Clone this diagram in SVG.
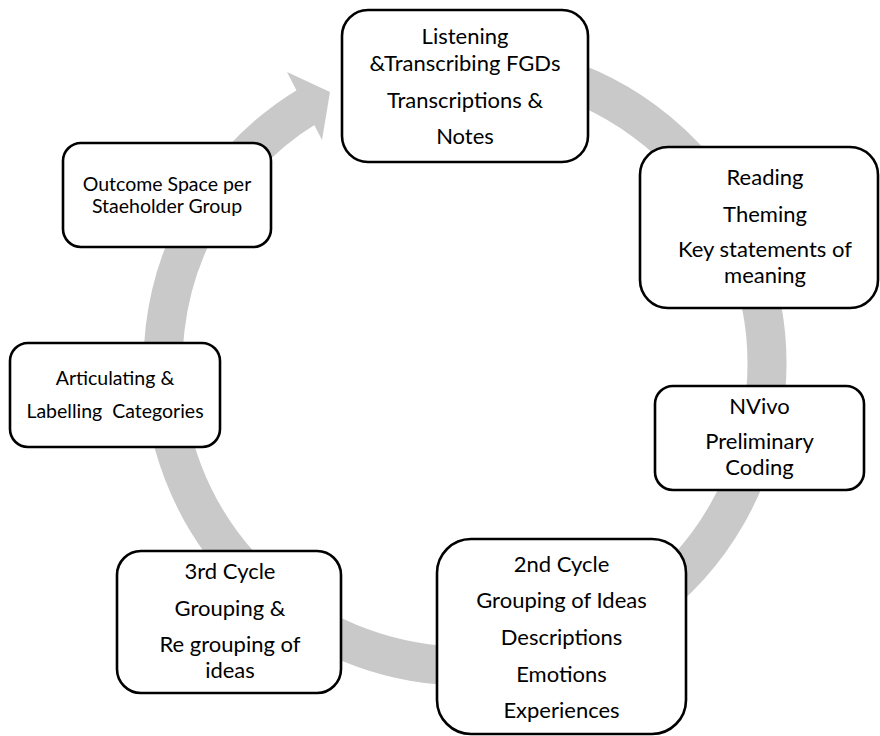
<svg xmlns="http://www.w3.org/2000/svg" width="880" height="736" viewBox="0 0 880 736">
<style>
.box{fill:#ffffff;stroke:#000000;stroke-width:2.6}
.t{font-family:Lato,"Open Sans","Liberation Sans",sans-serif;font-size:22px;fill:#000000;text-anchor:middle}
.s{font-size:19.5px}
.band{fill:none;stroke:#c9c9c9;stroke-width:39}
</style>
<rect width="880" height="736" fill="#ffffff"/>
<g id="connectors">
<path class="band" d="M543.2,72.3 A302,302 0 1 1 309.5,105.1"/>
<polygon points="287,72 330,92 322,140" fill="#c9c9c9"/>
</g>
<g id="n1">
<rect class="box" x="342" y="10" width="246" height="152" rx="26"/>
<text class="t" x="465" y="44">Listening</text>
<text class="t" x="465" y="71">&amp;Transcribing FGDs</text>
<text class="t" x="465" y="108">Transcriptions &amp;</text>
<text class="t" x="465" y="144">Notes</text>
</g>
<g id="n2">
<rect class="box" x="640" y="147" width="238" height="161" rx="28"/>
<text class="t" x="765" y="185">Reading</text>
<text class="t" x="765" y="222">Theming</text>
<text class="t" x="765" y="257">Key statements of</text>
<text class="t" x="765" y="283">meaning</text>
</g>
<g id="n3">
<rect class="box" x="655" y="386" width="209" height="104" rx="18"/>
<text class="t" x="759.5" y="414">NVivo</text>
<text class="t" x="759.5" y="449">Preliminary</text>
<text class="t" x="759.5" y="475">Coding</text>
</g>
<g id="n4">
<rect class="box" x="437" y="539" width="249" height="195" rx="34"/>
<text class="t" x="561.5" y="572">2nd Cycle</text>
<text class="t" x="561.5" y="608">Grouping of Ideas</text>
<text class="t" x="561.5" y="645">Descriptions</text>
<text class="t" x="561.5" y="682">Emotions</text>
<text class="t" x="561.5" y="718">Experiences</text>
</g>
<g id="n5">
<rect class="box" x="117" y="551" width="224" height="142" rx="24"/>
<text class="t" x="230" y="579">3rd Cycle</text>
<text class="t" x="230" y="616">Grouping &amp;</text>
<text class="t" x="230" y="652">Re grouping of</text>
<text class="t" x="230" y="678">ideas</text>
</g>
<g id="n6">
<rect class="box" x="10" y="343" width="210" height="104" rx="18"/>
<text class="t s" x="115" y="385">Articulating &amp;</text>
<text class="t s" x="115" y="418" xml:space="preserve">Labelling  Categories</text>
</g>
<g id="n7">
<rect class="box" x="63" y="143" width="208" height="104" rx="18"/>
<text class="t s" x="167" y="191">Outcome Space per</text>
<text class="t s" x="167" y="213">Staeholder Group</text>
</g>
</svg>
